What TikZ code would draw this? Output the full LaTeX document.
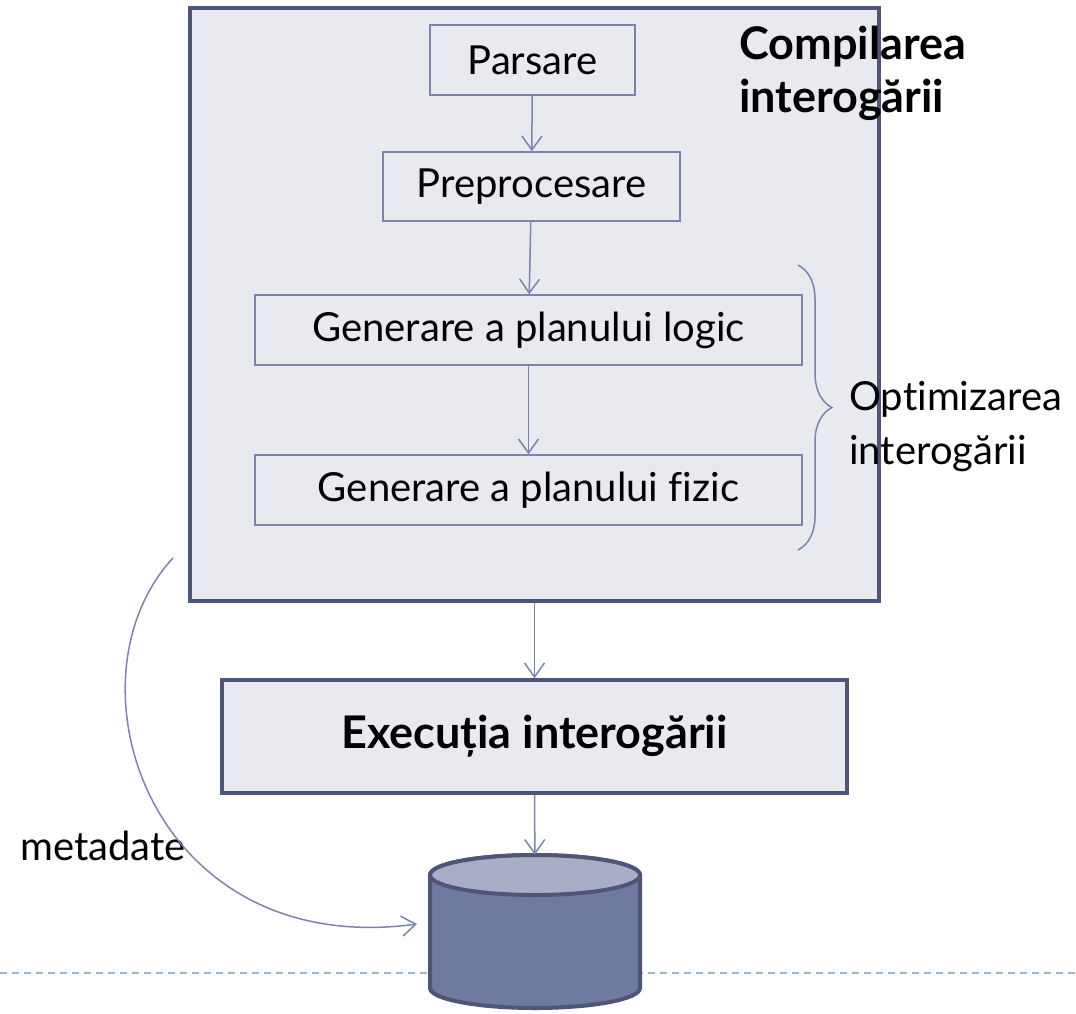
\documentclass[tikz,border=0pt]{standalone}
\usepackage{fontspec}
\setmainfont{Lato}[Ligatures=NoCommon]
\usetikzlibrary{arrows.meta,decorations.pathreplacing}
\definecolor{boxfill}{HTML}{E9EAF0}
\definecolor{darkline}{HTML}{4F5577}
\definecolor{thinline}{HTML}{7A84AE}
\definecolor{dbtop}{HTML}{A9AEC7}
\definecolor{dbbody}{HTML}{6F7AA0}
\definecolor{dashline}{HTML}{9FB4C8}
\newcommand\diagfont{\fontsize{40}{54}\selectfont}
\newcommand\boldfont{\fontsize{45}{53}\selectfont\bfseries}
\begin{document}
\begin{tikzpicture}[x=1pt,y=-1pt,
  stepbox/.style={draw=thinline,line width=1.5pt,fill=boxfill,inner sep=0pt,font=\diagfont},
  bigbox/.style={draw=darkline,line width=3.5pt,fill=boxfill,inner sep=0pt},
  link/.style={draw=thinline,line width=1.5pt,-{Straight Barb[length=14pt,width=20pt]}},
  dbline/.style={draw=darkline,line width=4pt}]
\useasboundingbox (0,0) rectangle (1076,1013);
\node[bigbox,minimum width=689pt,minimum height=593pt] (comp) at (534.5,304.5) {};
\node[stepbox,minimum width=205pt,minimum height=70pt] (pars) at (532.5,60) {Parsare};
\node[stepbox,minimum width=297pt,minimum height=69pt] (prep) at (531.5,186.5) {Preprocesare};
\node[stepbox,minimum width=547pt,minimum height=70pt] (logic) at (528.5,330) {Generare a planului logic};
\node[stepbox,minimum width=547pt,minimum height=70pt] (fizic) at (528.5,490) {Generare a planului fizic};
\node[anchor=north west,align=left,inner sep=0pt,font=\boldfont] (title) at (739,26) {Compilarea\\interogării};
\node[bigbox,minimum width=625pt,minimum height=113pt,font=\boldfont] (exec) at (534.5,736.5) {Execuția interogării};
% linia punctata din spatele bazei de date
\draw[dashline,line width=2pt,dash pattern=on 7pt off 5pt] (0,973) -- (1076,973);
% baza de date
\node[inner sep=0pt,minimum width=210pt,minimum height=155pt] (db) at (535,932.5) {};
\path[dbline,fill=dbbody] (430,875) -- (430,988) arc[start angle=180,end angle=0,x radius=105,y radius=20]
  -- (640,875) arc[start angle=0,end angle=-180,x radius=105,y radius=20] -- cycle;
\path[dbline,fill=dbtop] (535,875) ellipse[x radius=105,y radius=20];
\node[anchor=north west,align=left,inner sep=0pt,font=\diagfont] (optim) at (849,381) {Optimizarea\\interogării};
\node[anchor=base west,inner sep=0pt,font=\diagfont] (meta) at (20,860) {metadate};
\coordinate (mstart) at (173,558);
\coordinate (mend) at (417,924);
\coordinate (brtop) at (798,265);
\coordinate (brbot) at (798,550);
\path[link] (pars) -- (prep);
\path[link] (prep) -- (logic);
\path[link] (logic) -- (fizic);
\path[link] (comp) -- (exec);
\path[link] (exec) -- (db);
\path[link] (mstart) .. controls (60,680) and (150,960) .. (mend);
\draw[thinline,line width=1.5pt,decorate,decoration={brace,amplitude=34pt}] (brtop) -- (brbot);
\end{tikzpicture}
\end{document}
